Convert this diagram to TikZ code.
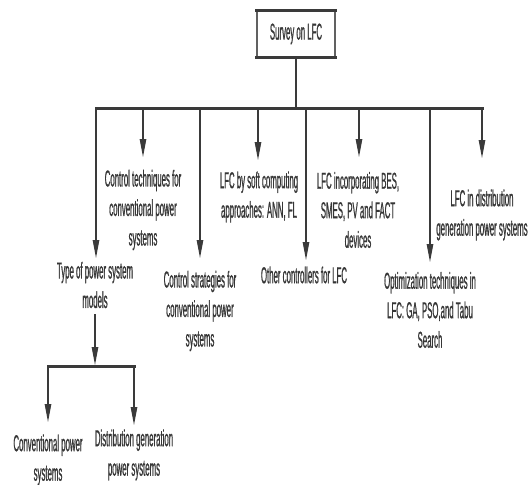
\documentclass[tikz,border=0pt]{standalone}
\usepackage{fontspec}
\newfontfamily\narrowfont[FakeStretch=0.34,FakeBold=0.7]{Liberation Sans}
\usetikzlibrary{arrows.meta}
\definecolor{lin}{HTML}{3A3A3A}
\definecolor{txt}{HTML}{363636}
\begin{document}
\begin{tikzpicture}[x=1pt,y=-1pt,
  lbl/.style={font=\narrowfont\fontsize{23}{29.5}\selectfont, text=txt, align=center, inner sep=0pt},
  vline/.style={draw=lin, line width=1.1pt},
  hbar/.style={draw=lin, line width=3pt, line cap=rect},
  arr/.style={vline, -{Triangle[length=18pt,width=6.5pt]}},
]
\useasboundingbox (0,0) rectangle (531,485);
% root box
\node[lbl, minimum width=78pt, minimum height=46pt] (root) at (296,34) {Survey on LFC};
\draw[line width=1.5pt, draw=lin!80] (root.north west) -- (root.south west) (root.north east) -- (root.south east);
\draw[line width=3pt, draw=lin, line cap=rect] (root.north west) -- (root.north east) (root.south west) -- (root.south east);
% main bar
\coordinate (j) at (296,108);
\foreach \n/\x in {1/96,2/143,3/200,4/258,5/306,6/359,7/430,8/482}{\coordinate (b\n) at (\x,108);}
\draw[vline] (root.south) -- (j);
\draw[hbar] (b1) -- (b8);
% tips
\coordinate (e1) at (96,258);
\coordinate (e2) at (143,157);
\coordinate (e3) at (200,258);
\coordinate (e4) at (258,160);
\coordinate (e5) at (306,260);
\coordinate (e6) at (359,157);
\coordinate (e7) at (430,262);
\coordinate (e8) at (482,158);
\foreach \n in {1,...,8}{\draw[arr] (b\n) -- (e\n);}
% labels
\node[lbl] (t1) at (95,285) {Type of power system\\models};
\node[lbl] (t2) at (143,210) {Control techniques for\\conventional power\\systems};
\node[lbl] (t3) at (200,311) {Control strategies for\\conventional power\\systems};
\node[lbl] (t4) at (259,197) {LFC by soft computing\\approaches: ANN, FL};
\node[lbl] (t5) at (304,275) {Other controllers for LFC};
\node[lbl] (t6) at (358,210) {LFC incorporating BES,\\SMES, PV and FACT\\devices};
\node[lbl] (t7) at (430,310) {Optimization techniques in\\LFC: GA, PSO,and Tabu\\Search};
\node[lbl] (t8) at (482,215) {LFC in distribution\\generation power systems};
% sub tree
\coordinate (k) at (95,365);
\draw[arr] ([yshift=-6pt]t1.south) -- (k);
\coordinate (m1) at (48,366);
\coordinate (m2) at (134,366);
\draw[hbar] (m1) -- (m2);
\coordinate (f1) at (48,422);
\coordinate (f2) at (134,425);
\draw[arr] (m1) -- (f1);
\draw[arr] (m2) -- (f2);
\node[lbl] (u1) at (48,460) {Conventional power\\systems};
\node[lbl] (u2) at (134,455) {Distribution generation\\power systems};
\end{tikzpicture}
\end{document}
